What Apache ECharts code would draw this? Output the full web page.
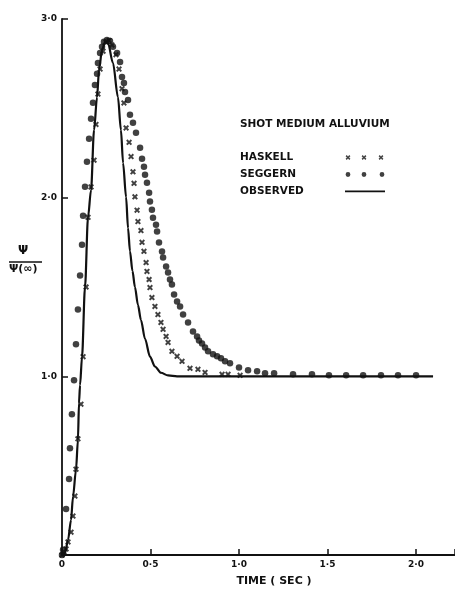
<!DOCTYPE html>
<html>
<head>
<meta charset="utf-8">
<script src="https://cdn.jsdelivr.net/npm/echarts@6/dist/echarts.min.js"></script>
<style>
  html, body { margin: 0; padding: 0; background: #fff; }
  #chart { width: 455px; height: 591px; }
</style>
</head>
<body>
<div id="chart"></div>
<script>
// values: time (sec) and psi / psi(inf)
const obsT = [0, 0.017, 0.034, 0.051, 0.062, 0.079, 0.09, 0.096, 0.102, 0.113, 0.13, 0.147, 0.164, 0.181, 0.198, 0.209, 0.226, 0.243, 0.26, 0.288, 0.316, 0.333, 0.345, 0.362, 0.373, 0.384, 0.398, 0.412, 0.429, 0.446, 0.469, 0.497, 0.525, 0.559, 0.599, 0.65, 2.096];
const obsPsi = [0, 0.011, 0.084, 0.196, 0.324, 0.476, 0.643, 0.851, 0.951, 1.108, 1.5, 1.891, 2.043, 2.378, 2.563, 2.714, 2.826, 2.871, 2.865, 2.753, 2.563, 2.378, 2.194, 2.003, 1.83, 1.7, 1.59, 1.5, 1.4, 1.315, 1.21, 1.11, 1.055, 1.02, 1.005, 1.0, 1.0];

const haskT = [0, 0.011, 0.023, 0.034, 0.051, 0.062, 0.073, 0.079, 0.09, 0.107, 0.119, 0.136, 0.147, 0.164, 0.181, 0.192, 0.203, 0.215, 0.232, 0.249, 0.266, 0.282, 0.305, 0.322, 0.339, 0.35, 0.362, 0.379, 0.39, 0.401, 0.407, 0.412, 0.424, 0.429, 0.446, 0.452, 0.463, 0.475, 0.48, 0.492, 0.497, 0.508, 0.525, 0.542, 0.559, 0.571, 0.588, 0.599, 0.621, 0.65, 0.678, 0.723, 0.768, 0.808, 0.904, 0.938, 1.006];
const haskPsi = [0, 0.017, 0.034, 0.073, 0.128, 0.218, 0.33, 0.48, 0.65, 0.844, 1.11, 1.5, 1.89, 2.06, 2.21, 2.41, 2.58, 2.72, 2.82, 2.87, 2.88, 2.855, 2.8, 2.72, 2.61, 2.53, 2.39, 2.31, 2.23, 2.145, 2.08, 2.005, 1.93, 1.866, 1.816, 1.75, 1.7, 1.637, 1.587, 1.542, 1.497, 1.441, 1.391, 1.346, 1.302, 1.263, 1.223, 1.19, 1.14, 1.112, 1.084, 1.045, 1.039, 1.022, 1.011, 1.011, 1.006];

const segT = [0, 0.006, 0.023, 0.04, 0.045, 0.056, 0.068, 0.079, 0.09, 0.102, 0.113, 0.119, 0.13, 0.141, 0.153, 0.164, 0.175, 0.186, 0.198, 0.203, 0.215, 0.226, 0.237, 0.254, 0.271, 0.288, 0.311, 0.328, 0.339, 0.35, 0.356, 0.373, 0.384, 0.401, 0.418, 0.441, 0.452, 0.463, 0.469, 0.48, 0.492, 0.497, 0.508, 0.514, 0.531, 0.537, 0.548, 0.565, 0.571, 0.588, 0.599, 0.61, 0.621, 0.633, 0.65, 0.667, 0.684, 0.712, 0.74, 0.763, 0.774, 0.791, 0.808, 0.825, 0.853, 0.876, 0.898, 0.921, 0.949, 1.0, 1.051, 1.102, 1.147, 1.198, 1.305, 1.412, 1.508, 1.605, 1.701, 1.802, 1.898, 2.0];
const segPsi = [0, 0.03, 0.257, 0.425, 0.598, 0.788, 0.978, 1.179, 1.374, 1.564, 1.737, 1.899, 2.061, 2.201, 2.33, 2.441, 2.531, 2.631, 2.693, 2.754, 2.81, 2.844, 2.872, 2.883, 2.877, 2.844, 2.81, 2.76, 2.676, 2.642, 2.592, 2.547, 2.464, 2.419, 2.363, 2.279, 2.218, 2.173, 2.128, 2.084, 2.028, 1.978, 1.933, 1.888, 1.849, 1.81, 1.749, 1.698, 1.665, 1.615, 1.581, 1.542, 1.514, 1.458, 1.419, 1.391, 1.346, 1.302, 1.251, 1.223, 1.201, 1.184, 1.162, 1.14, 1.123, 1.112, 1.101, 1.084, 1.073, 1.05, 1.034, 1.028, 1.017, 1.017, 1.011, 1.011, 1.006, 1.006, 1.006, 1.006, 1.006, 1.006];

const xTickLabels = ['0', '0·5', '1·0', '1·5', '2·0'];
const yTickLabels = ['', '1·0', '2·0', '3·0'];

const pairs = (xs, ys) => xs.map((x, i) => [x, ys[i]]);
const tickLabel = (labels, v, step) => {
  const k = Math.round(v / step);
  return Math.abs(v / step - k) < 1e-6 ? (labels[k] || '') : '';
};

const FONT = 'DejaVu Sans';
const INK = '#111';

// small x mark as a filled polygon (0..10 box)
const crossPts = [[0, 2.3], [2.3, 0], [5, 2.7], [7.7, 0], [10, 2.3], [7.3, 5], [10, 7.7], [7.7, 10], [5, 7.3], [2.3, 10], [0, 7.7], [2.7, 5]];
const crossAt = (cx, cy, h) =>
  'M' + crossPts.map(p => (cx + (p[0] - 5) * h / 5).toFixed(2) + ',' + (cy + (p[1] - 5) * h / 5).toFixed(2)).join('L') + 'Z';
const dotAt = (cx, cy, r) =>
  `M${cx - r},${cy}a${r},${r} 0 1,0 ${2 * r},0a${r},${r} 0 1,0 ${-2 * r},0Z`;
// anchors fix the icon box at 40x6
const anchor = 'M0,0L0,0ZM40,6L40,6Z';

const chart = echarts.init(document.getElementById('chart'));

chart.setOption({
  animation: false,
  backgroundColor: '#fff',
  textStyle: { fontFamily: FONT, color: INK },
  title: {
    text: 'SHOT MEDIUM ALLUVIUM',
    left: 240, top: 119, padding: 0,
    textStyle: { fontFamily: FONT, fontSize: 10.5, fontWeight: 'bold', color: INK }
  },
  legend: {
    orient: 'vertical',
    left: 240, top: 152, padding: 0,
    align: 'right',
    itemWidth: 40, itemHeight: 6, itemGap: 6,
    selectedMode: false,
    itemStyle: { borderWidth: 0 },
    formatter: name => `{t|${name}}`,
    textStyle: {
      rich: { t: { width: 100, align: 'left', fontFamily: FONT, fontSize: 10.5, fontWeight: 'bold', color: INK, lineHeight: 12 } }
    },
    data: [
      { name: 'HASKELL', icon: 'path://' + anchor + crossAt(3, 3, 2.4) + crossAt(19, 3, 2.4) + crossAt(36, 3, 2.4) },
      { name: 'SEGGERN', icon: 'path://' + anchor + dotAt(3, 3, 2.4) + dotAt(19, 3, 2.4) + dotAt(37, 3, 2.4) },
      { name: 'OBSERVED', icon: 'path://' + anchor + 'M0,2L40,2L40,3.8L0,3.8Z' }
    ]
  },
  grid: { left: 62, right: 0, top: 19, bottom: 36, containLabel: false, outerBoundsMode: 'none' },
  xAxis: {
    type: 'value', min: 0, max: 2.22, interval: 0.5,
    name: 'TIME ( SEC )', nameLocation: 'middle', nameGap: 21,
    nameTextStyle: { fontFamily: FONT, fontSize: 11, fontWeight: 'bold', color: INK, padding: [0, 0, 0, 31] },
    axisLine: { lineStyle: { color: INK, width: 1.8 } },
    axisTick: { inside: true, length: 6, lineStyle: { color: INK, width: 1.5 } },
    axisLabel: {
      margin: 5, fontFamily: FONT, fontSize: 9, fontWeight: 'bold', color: INK,
      formatter: v => tickLabel(xTickLabels, v, 0.5)
    },
    splitLine: { show: false }
  },
  yAxis: {
    type: 'value', min: 0, max: 3, interval: 1,
    axisLine: { show: true, lineStyle: { color: INK, width: 1.8 } },
    axisTick: { show: true, inside: true, length: 6, lineStyle: { color: INK, width: 1.5 } },
    axisLabel: {
      margin: 5, fontFamily: FONT, fontSize: 9, fontWeight: 'bold', color: INK,
      formatter: v => tickLabel(yTickLabels, v, 1)
    },
    splitLine: { show: false }
  },
  graphic: [
    { type: 'text', left: 18, top: 245, style: { text: 'Ψ', fontFamily: FONT, fontSize: 12, fontWeight: 'bold', fill: INK } },
    { type: 'line', shape: { x1: 9, y1: 262, x2: 42, y2: 262 }, style: { stroke: INK, lineWidth: 1.5 } },
    { type: 'text', left: 9, top: 264, style: { text: 'Ψ(∞)', fontFamily: FONT, fontSize: 11, fontWeight: 'bold', fill: INK } }
  ],
  series: [
    {
      name: 'OBSERVED', type: 'line', data: pairs(obsT, obsPsi),
      smooth: 0.3, smoothMonotone: 'x', symbol: 'none', color: INK,
      lineStyle: { color: INK, width: 2.2 }, z: 2
    },
    {
      name: 'HASKELL', type: 'scatter', data: pairs(haskT, haskPsi),
      symbol: 'path://' + crossAt(5, 5, 5), symbolSize: 6, color: INK,
      itemStyle: { color: INK }, z: 3
    },
    {
      name: 'SEGGERN', type: 'scatter', data: pairs(segT, segPsi),
      symbol: 'circle', symbolSize: 6.5, color: INK,
      itemStyle: { color: INK }, z: 4
    }
  ]
});

window.addEventListener('resize', () => chart.resize());
</script>
</body>
</html>
